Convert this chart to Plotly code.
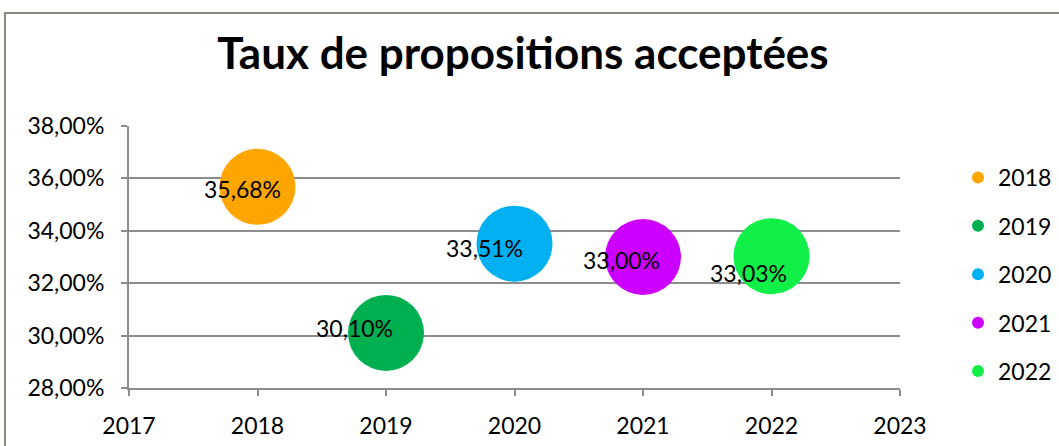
import plotly.graph_objects as go

years = [2018, 2019, 2020, 2021, 2022]
rates = [0.3568, 0.3010, 0.3351, 0.3300, 0.3303]
names = ["2018", "2019", "2020", "2021", "2022"]
x_ticks = [2017, 2018, 2019, 2020, 2021, 2022, 2023]
y_ticks = [0.28, 0.30, 0.32, 0.34, 0.36, 0.38]

colors = ["#FFA500", "#00B050", "#00B0F0", "#CC00FF", "#10F048"]
label_dx = [-15, -32, -30, -22, -23]
label_dy = [-2, 5, -4, -3, -17]

FONT = "Lato"
FS = 23

fig = go.Figure()
for yr, r, n, c in zip(years, rates, names, colors):
    fig.add_trace(go.Scatter(
        x=[yr], y=[r], name=n, mode="markers",
        marker=dict(size=76, color=c, line=dict(width=0)),
        legendgroup=n, hoverinfo="skip",
    ))

for yr, r, dx, dy in zip(years, rates, label_dx, label_dy):
    fig.add_annotation(
        x=yr, y=r, text=f"{r*100:.2f}%".replace(".", ","), showarrow=False,
        xshift=dx, yshift=dy, font=dict(family=FONT, size=FS, color="black"),
    )

W, H = 1059, 446
L, R, T, B = 129, 159, 126, 58
pw, ph = W - L - R, H - T - B

def px(xp):
    return (xp - L) / pw

def py(yp):
    return (H - B - yp) / ph

fig.add_shape(type="rect", xref="paper", yref="paper",
              x0=px(5), x1=px(1070), y0=py(460), y1=py(13),
              line=dict(color="#8a8a80", width=2), layer="below")

fig.update_layout(
    width=W, height=H,
    margin=dict(l=L, r=R, t=T, b=B, autoexpand=False),
    paper_bgcolor="white", plot_bgcolor="white",
    separators=", ",
    font=dict(family=FONT, size=FS, color="black"),
    title=dict(text="<b>Taux de propositions acceptées</b>", x=523 / W, xanchor="center",
               y=1 - 54 / H, yanchor="middle",
               font=dict(family=FONT, size=44, color="black")),
    showlegend=True,
    legend=dict(x=px(958), xanchor="left", y=py(156), yanchor="top",
                font=dict(family=FONT, size=FS), tracegroupgap=15.5,
                itemsizing="constant", itemwidth=30, bgcolor="rgba(0,0,0,0)"),
    xaxis=dict(range=[2017, 2023], tickvals=x_ticks, ticktext=[str(v) for v in x_ticks],
               showgrid=False, zeroline=False, showline=True, linecolor="#8c8c8c", linewidth=2,
               ticks="outside", tickcolor="#8c8c8c", ticklen=6, tickwidth=2,
               ticklabelstandoff=10, tickfont=dict(family=FONT, size=FS)),
    yaxis=dict(range=[0.28, 0.38], tickvals=y_ticks, tickformat=".2%",
               showgrid=True, gridcolor="#8c8c8c", gridwidth=2, zeroline=False,
               showline=True, linecolor="#8c8c8c", linewidth=2,
               ticks="outside", tickcolor="#8c8c8c", ticklen=6, tickwidth=2,
               ticklabelstandoff=12, tickfont=dict(family=FONT, size=FS)),
)

fig.write_html("out.html", config={"displayModeBar": False},
               post_script="document.body.style.margin='0';document.body.style.overflow='hidden';")
